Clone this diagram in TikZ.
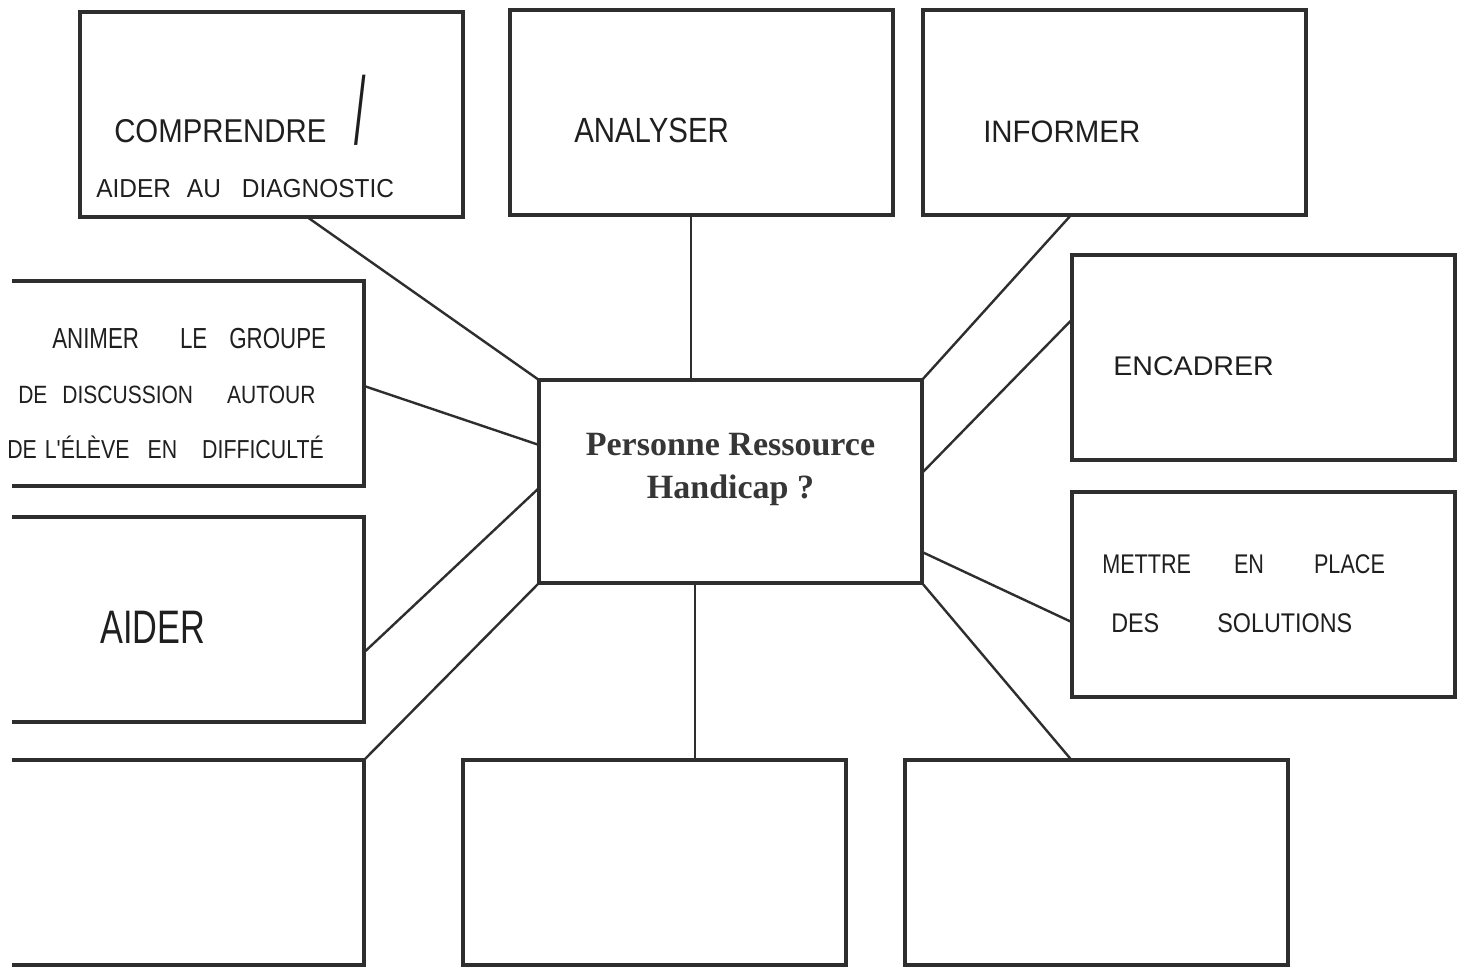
\documentclass[tikz,border=0pt]{standalone}
\usepackage{fontspec}
\setmainfont{Liberation Serif}
\newfontfamily\handfont{Liberation Sans}
\usetikzlibrary{calc}
\definecolor{ink}{HTML}{2E2E2E}
\definecolor{pen}{HTML}{1F1F1F}
\definecolor{printink}{HTML}{363636}
\begin{document}
\begin{tikzpicture}[x=0.75pt,y=-0.75pt,
  box/.style={draw=ink, line width=3pt, minimum width=287.25pt, minimum height=153.75pt, inner sep=0pt, outer sep=0pt},
  openbox/.style={minimum width=287.25pt, minimum height=153.75pt, inner sep=0pt, outer sep=0pt},
  frame/.style={draw=ink, line width=3pt, line join=miter},
  link/.style={draw=ink, line width=1.8pt},
  hand/.style={anchor=base west, inner sep=0pt, text=pen},
  title/.style={anchor=base, inner sep=0pt, text=printink, font=\bfseries\fontsize{25.5pt}{30pt}\selectfont}]

\useasboundingbox[fill=white] (0,0) rectangle (1465,978);

% ---- boxes ----
\node[box] (bComp) at (271.5,114.5) {};
\node[box] (bAnal) at (701,112.5) {};
\node[box] (bInfo) at (1114,112.5) {};
\node[box] (bEnca) at (1263,357.5) {};
\node[box] (bMett) at (1263,594.5) {};
\node[box, minimum height=152.25pt] (cen) at (730.5,481.5) {};
\node[box] (bBM) at (654,862.5) {};
\node[box] (bBR) at (1096,862.5) {};

% boxes running off the left edge of the sheet
\node[openbox] (bAnim) at (172.5,383.5) {};
\node[openbox] (bAide) at (172.5,619) {};
\node[openbox] (bBL) at (172.5,862.5) {};
\coordinate (cut) at (12,0);
\draw[frame] (bAnim.north -| cut) -- (bAnim.north east) -- (bAnim.south east) -- (bAnim.south -| cut);
\draw[frame] (bAide.north -| cut) -- (bAide.north east) -- (bAide.south east) -- (bAide.south -| cut);
\draw[frame] (bBL.north -| cut) -- (bBL.north east) -- (bBL.south east) -- (bBL.south -| cut);

% ---- connectors ----
\draw[link] ($(bComp.south west)!0.593!(bComp.south east)$) -- (cen.north west);
\coordinate (ctop) at ($(cen.north west)!0.397!(cen.north east)$);
\draw[link] (ctop) -- (ctop |- bAnal.south);
\draw[link] ($(bInfo.south west)!0.388!(bInfo.south east)$) -- (cen.north east);
\draw[link] ($(bEnca.north west)!0.317!(bEnca.south west)$) -- ($(cen.north east)!0.458!(cen.south east)$);
\draw[link] ($(bMett.north west)!0.634!(bMett.south west)$) -- ($(cen.north east)!0.847!(cen.south east)$);
\draw[link] ($(bBR.north west)!0.436!(bBR.north east)$) -- (cen.south east);
\coordinate (cbot) at ($(cen.south west)!0.407!(cen.south east)$);
\draw[link] (cbot) -- (cbot |- bBM.north);
\draw[link] (cen.south west) -- (bBL.north east);
\draw[link] ($(bAide.north east)!0.663!(bAide.south east)$) -- ($(cen.north west)!0.532!(cen.south west)$);
\draw[link] ($(bAnim.north east)!0.512!(bAnim.south east)$) -- ($(cen.north west)!0.32!(cen.south west)$);

% ---- centre title ----
\node[title] (lCen1) at (730.5,455) {Personne Ressource};
\node[title] (lCen2) at (730.5,498) {Handicap ?};

% ---- hand-lettered labels ----
\node[hand, font=\handfont\fontsize{24.75pt}{28pt}\selectfont] (lComp) at (114,142)
  {\scalebox{0.89}[1]{COMPRENDRE\hspace{24pt}\raisebox{-2pt}{\scalebox{1.4}[2.9]{/}}}};
\node[hand, font=\handfont\fontsize{19.5pt}{22pt}\selectfont] (lDiag) at (96,197)
  {\scalebox{0.94}[1]{AIDER\hspace{12.8pt}AU\hspace{16.75pt}DIAGNOSTIC}};
\node[hand, font=\handfont\fontsize{26.25pt}{30pt}\selectfont] (lAnal) at (574,142)
  {\scalebox{0.84}[1]{ANALYSER}};
\node[hand, font=\handfont\fontsize{23.25pt}{26pt}\selectfont] (lInfo) at (983,142)
  {\scalebox{0.95}[1]{INFORMER}};
\node[hand, font=\handfont\fontsize{20.25pt}{24pt}\selectfont] (lEnca) at (1113,375)
  {\scalebox{1.06}[1]{ENCADRER}};
\node[hand, font=\handfont\fontsize{20.25pt}{24pt}\selectfont] (lMett1) at (1102,573)
  {\scalebox{0.8}[1]{METTRE\hspace{40.3pt}EN\hspace{46.9pt}PLACE}};
\node[hand, font=\handfont\fontsize{20.25pt}{24pt}\selectfont] (lMett2) at (1111,632)
  {\scalebox{0.865}[1]{DES\hspace{50.3pt}SOLUTIONS}};
\node[hand, font=\handfont\fontsize{21.75pt}{24pt}\selectfont] (lAnim1) at (52,348)
  {\scalebox{0.77}[1]{ANIMER\hspace{39.9pt}LE\hspace{21.4pt}GROUPE}};
\node[hand, font=\handfont\fontsize{18.75pt}{22pt}\selectfont] (lAnim2) at (18,403)
  {\scalebox{0.84}[1]{DE\hspace{13.4pt}DISCUSSION\hspace{30.4pt}AUTOUR}};
\node[hand, font=\handfont\fontsize{19.5pt}{22pt}\selectfont] (lAnim3) at (7,458)
  {\scalebox{0.82}[1]{DE\hspace{7.3pt}L'ÉLÈVE\hspace{16.5pt}EN\hspace{22.9pt}DIFFICULTÉ}};
\node[hand, font=\handfont\fontsize{35.25pt}{40pt}\selectfont] (lAide) at (100,643)
  {\scalebox{0.73}[1]{AIDER}};
\end{tikzpicture}
\end{document}
